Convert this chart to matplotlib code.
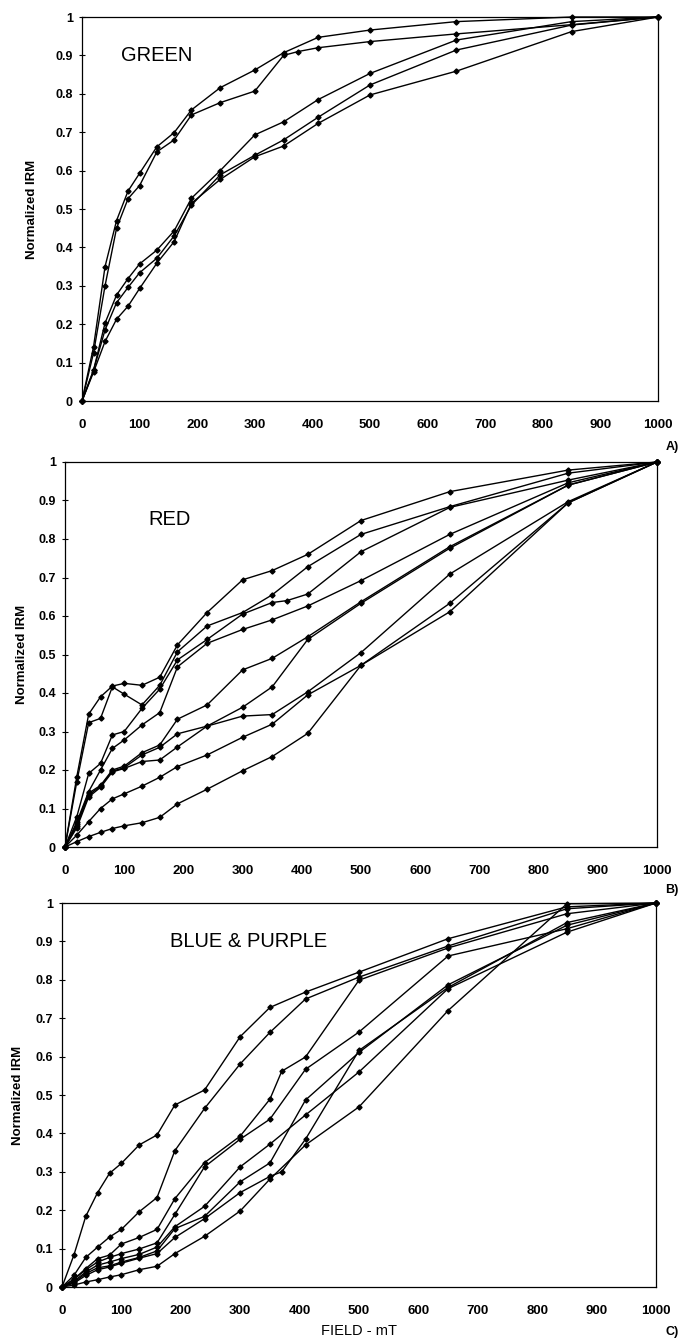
import matplotlib
matplotlib.use("Agg")
import matplotlib.pyplot as plt

plt.rcParams['font.family'] = ['Liberation Sans', 'DejaVu Sans']

# field steps (mT)
field = [0, 20, 40, 60, 80, 100, 130, 160, 190, 240, 300, 350, 410, 500, 650, 850, 1000]
field_375 = [0, 20, 40, 60, 80, 100, 130, 160, 190, 240, 300, 350, 375, 410, 500, 650, 850, 1000]
field_370 = [0, 20, 40, 60, 80, 100, 130, 160, 190, 240, 300, 350, 370, 410, 500, 650, 850, 1000]

# A) green
green_1 = [0, 0.141, 0.350, 0.470, 0.547, 0.593, 0.662, 0.699, 0.758, 0.816, 0.862, 0.907, 0.947, 0.966, 0.988, 1.0, 1.0]
green_2 = [0, 0.125, 0.300, 0.450, 0.527, 0.561, 0.649, 0.680, 0.745, 0.777, 0.807, 0.900, 0.910, 0.920, 0.936, 0.956, 0.980, 1.0]
green_3 = [0, 0.080, 0.203, 0.276, 0.319, 0.357, 0.393, 0.443, 0.528, 0.600, 0.693, 0.727, 0.785, 0.853, 0.940, 0.988, 1.0]
green_4 = [0, 0.080, 0.185, 0.256, 0.296, 0.334, 0.372, 0.430, 0.510, 0.589, 0.640, 0.680, 0.739, 0.823, 0.914, 0.979, 1.0]
green_5 = [0, 0.075, 0.155, 0.213, 0.247, 0.293, 0.359, 0.415, 0.515, 0.577, 0.636, 0.664, 0.723, 0.797, 0.859, 0.962, 1.0]

# B) red
red_1 = [0, 0.183, 0.345, 0.390, 0.418, 0.425, 0.420, 0.441, 0.525, 0.609, 0.694, 0.718, 0.760, 0.848, 0.923, 0.979, 1.0]
red_2 = [0, 0.170, 0.323, 0.334, 0.416, 0.397, 0.369, 0.420, 0.507, 0.574, 0.609, 0.655, 0.728, 0.812, 0.884, 0.971, 1.0]
red_3 = [0, 0.079, 0.191, 0.217, 0.291, 0.300, 0.360, 0.410, 0.486, 0.539, 0.605, 0.635, 0.640, 0.657, 0.767, 0.882, 0.953, 1.0]
red_4 = [0, 0.065, 0.144, 0.200, 0.256, 0.278, 0.317, 0.349, 0.468, 0.529, 0.565, 0.590, 0.626, 0.692, 0.812, 0.946, 1.0]
red_5 = [0, 0.060, 0.140, 0.160, 0.200, 0.210, 0.245, 0.265, 0.332, 0.369, 0.460, 0.490, 0.546, 0.637, 0.780, 0.940, 1.0]
red_6 = [0, 0.055, 0.135, 0.158, 0.197, 0.206, 0.239, 0.259, 0.294, 0.314, 0.363, 0.416, 0.539, 0.633, 0.776, 0.940, 1.0]
red_7 = [0, 0.050, 0.130, 0.155, 0.195, 0.204, 0.222, 0.226, 0.260, 0.314, 0.340, 0.344, 0.403, 0.505, 0.709, 0.897, 1.0]
red_8 = [0, 0.031, 0.066, 0.100, 0.125, 0.138, 0.158, 0.181, 0.209, 0.239, 0.285, 0.319, 0.395, 0.472, 0.633, 0.894, 1.0]
red_9 = [0, 0.014, 0.027, 0.038, 0.048, 0.055, 0.063, 0.077, 0.112, 0.150, 0.198, 0.235, 0.295, 0.472, 0.611, 0.894, 1.0]

# C) blue & purple
blue_1 = [0, 0.083, 0.184, 0.246, 0.296, 0.322, 0.370, 0.396, 0.474, 0.513, 0.652, 0.728, 0.768, 0.820, 0.907, 0.990, 1.0]
blue_2 = [0, 0.030, 0.077, 0.104, 0.130, 0.150, 0.196, 0.233, 0.355, 0.465, 0.581, 0.663, 0.750, 0.807, 0.888, 0.985, 1.0]
blue_3 = [0, 0.020, 0.048, 0.074, 0.083, 0.112, 0.129, 0.150, 0.230, 0.324, 0.393, 0.489, 0.562, 0.599, 0.799, 0.883, 0.972, 1.0]
blue_4 = [0, 0.020, 0.045, 0.065, 0.077, 0.087, 0.099, 0.115, 0.189, 0.313, 0.385, 0.437, 0.567, 0.664, 0.862, 0.933, 1.0]
blue_5 = [0, 0.015, 0.039, 0.057, 0.065, 0.074, 0.085, 0.104, 0.157, 0.210, 0.313, 0.372, 0.448, 0.560, 0.777, 0.924, 1.0]
blue_6 = [0, 0.012, 0.035, 0.050, 0.055, 0.065, 0.077, 0.094, 0.152, 0.184, 0.274, 0.323, 0.487, 0.611, 0.787, 0.942, 1.0]
blue_7 = [0, 0.010, 0.030, 0.045, 0.052, 0.062, 0.075, 0.087, 0.129, 0.178, 0.246, 0.288, 0.300, 0.385, 0.616, 0.780, 0.949, 1.0]
blue_8 = [0, 0.005, 0.013, 0.019, 0.026, 0.032, 0.045, 0.054, 0.087, 0.132, 0.198, 0.281, 0.370, 0.469, 0.720, 0.998, 1.0]

panels = [
    ('GREEN', (68, 0.90), [(field, green_1), (field_375, green_2), (field, green_3), (field, green_4), (field, green_5)]),
    ('RED', (140, 0.85), [(field, red_1), (field, red_2), (field_375, red_3), (field, red_4), (field, red_5),
                          (field, red_6), (field, red_7), (field, red_8), (field, red_9)]),
    ('BLUE & PURPLE', (182, 0.90), [(field, blue_1), (field, blue_2), (field_370, blue_3), (field, blue_4),
                                    (field, blue_5), (field, blue_6), (field_370, blue_7), (field, blue_8)]),
]

W, H = 687, 1340
rects = [(82, 17, 658, 401), (65, 462, 657, 847), (62, 903, 656, 1287)]
letters = [('A)', 447), ('B)', 890), ('C)', 1332)]
ylabel_x = [38, 28, 24]

fig = plt.figure(figsize=(W / 100, H / 100), dpi=100)

yticks = [0, 0.1, 0.2, 0.3, 0.4, 0.5, 0.6, 0.7, 0.8, 0.9, 1]
ylabels = ['0', '0.1', '0.2', '0.3', '0.4', '0.5', '0.6', '0.7', '0.8', '0.9', '1']
xticks = [0, 100, 200, 300, 400, 500, 600, 700, 800, 900, 1000]

for (title, tpos, curves), (x0, y0, x1, y1), (letter, ly), lx in zip(panels, rects, letters, ylabel_x):
    ax = fig.add_axes([x0 / W, 1 - y1 / H, (x1 - x0) / W, (y1 - y0) / H])
    for fx, vals in curves:
        ax.plot(fx, vals, color='black', lw=1.0, marker='D', ms=2.6, clip_on=False)
    ax.set_xlim(0, 1000)
    ax.set_ylim(0, 1)
    ax.set_yticks(yticks)
    ax.set_yticklabels(ylabels, fontsize=9, fontweight='bold')
    ax.set_xticks(xticks)
    ax.set_xticklabels([str(t) for t in xticks], fontsize=9.5, fontweight='bold')
    ax.tick_params(axis='y', direction='inout', length=5, width=0.8, pad=4)
    ax.tick_params(axis='x', length=0, pad=13)
    ax.set_ylabel('Normalized IRM', fontsize=9.5, fontweight='bold')
    ax.yaxis.set_label_coords((lx - x0) / (x1 - x0), 0.5)
    for sp in ax.spines.values():
        sp.set_linewidth(0.9)
    ax.text(tpos[0], tpos[1], title, fontsize=14.5, ha='left', va='center')
    fig.text(672 / W, 1 - ly / H, letter, fontsize=9, fontweight='bold', ha='center', va='center')

fig.text(359 / W, 1 - 1331 / H, 'FIELD - mT', fontsize=10.5, ha='center', va='center')

fig.savefig('out.png', dpi=100)
